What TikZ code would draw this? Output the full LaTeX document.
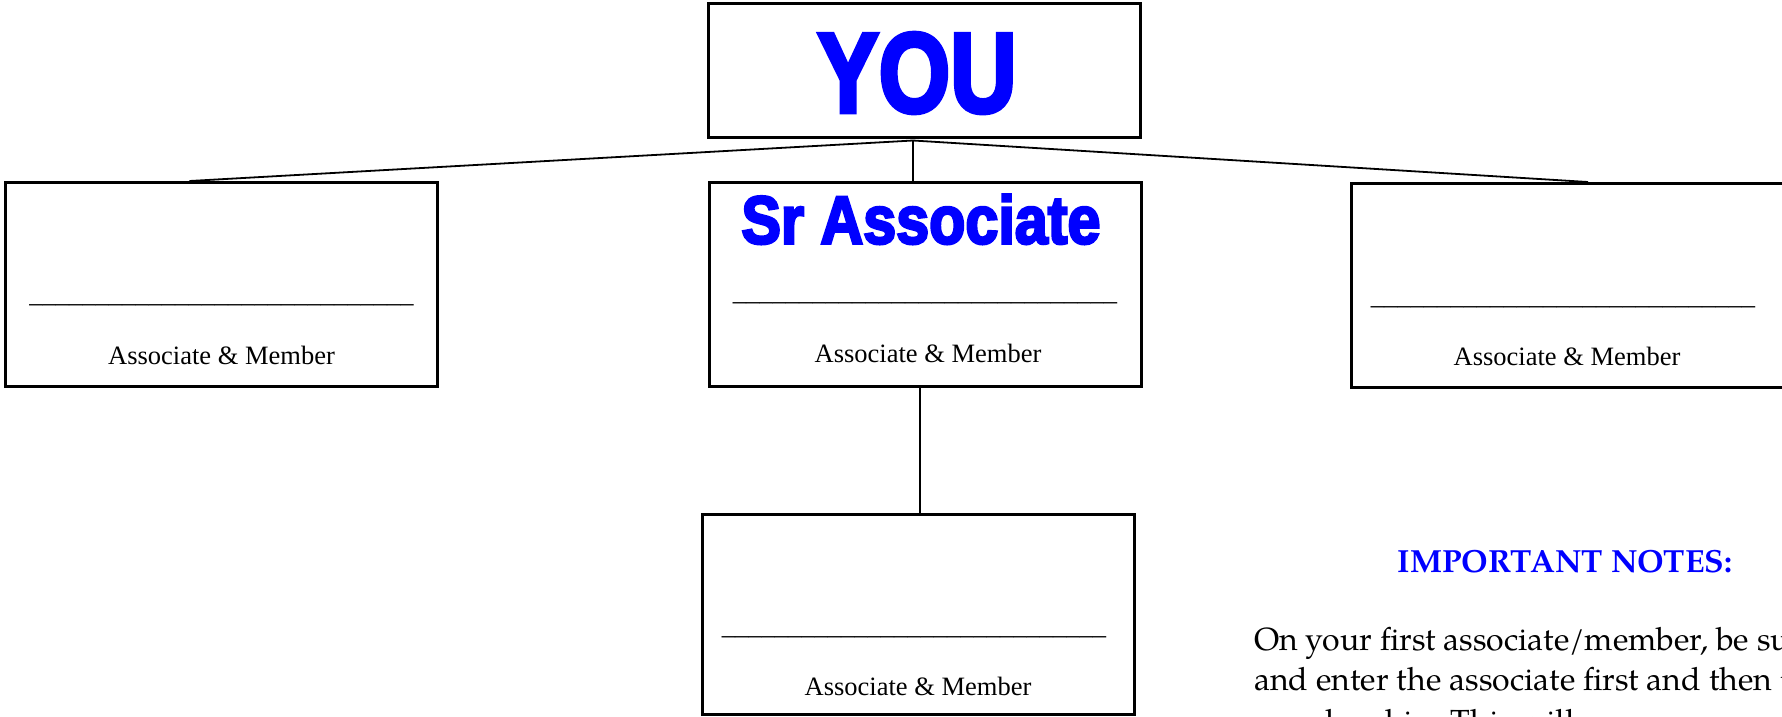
\documentclass[tikz,border=0pt]{standalone}
\usepackage{graphicx}
\usepackage{fontspec}
\setmainfont{Liberation Serif}
\newfontfamily\impactfont{Liberation Sans Bold}[FakeBold=4]
\newfontfamily\notesfont{texgyrepagella}[Extension=.otf, UprightFont=*-regular, BoldFont=*-bold]
\usetikzlibrary{positioning}

\definecolor{youblue}{RGB}{0,0,255}
\newcommand{\blankline}{\_\_\_\_\_\_\_\_\_\_\_\_\_\_\_\_\_\_\_\_\_\_\_\_\_\_\_\_\_}

\begin{document}
\begin{tikzpicture}
	[x=1pt, y=-1pt, on grid,
	 member/.style={draw, line width=3pt, minimum width=432pt, minimum height=204pt, inner sep=0pt},
	 link/.style={line width=1.8pt},
	 role/.style={font=\fontsize{26.5}{30}\selectfont, inner sep=0pt},
	 title/.style={text=youblue, inner sep=0pt},
	 note/.style={font=\notesfont\fontsize{32}{40}\selectfont, inner sep=0pt}]
   \useasboundingbox (0,0) rectangle (1782,716);
   \clip (0,0) rectangle (1782,716);
   % boxes
   \node[member, minimum height=134pt] (you) at (924,70) {};
   \node[member] (sr) at (925,284) {};
   \node[member] (lbox) at (221.5,284.5) {};
   \node[member] (rbox) at (1567,285.5) {};
   \node[member, minimum height=200pt] (bbox) at (918,614) {};
   % titles
   \node[title] (you_t) at (917,112) [anchor=base] {\resizebox{199pt}{79pt}{\impactfont YOU}};
   \node[title] (sr_t) [below=63pt of sr.north, anchor=base, xshift=-4pt] {\resizebox{359pt}{49pt}{\impactfont Sr Associate}};
   % blanks and roles
   \node[role] (l_line) [below=121pt of lbox.north, anchor=base] {\blankline};
   \node[role] (l_role) [below=183pt of lbox.north, anchor=base] {Associate \& Member};
   \node[role] (sr_line) [below=120pt of sr.north, anchor=base] {\blankline};
   \node[role] (sr_role) [below=182pt of sr.north, anchor=base, xshift=3pt] {Associate \& Member};
   \node[role] (r_line) [below=122pt of rbox.north, anchor=base, xshift=-4pt] {\blankline};
   \node[role] (r_role) [below=183pt of rbox.north, anchor=base] {Associate \& Member};
   \node[role] (b_line) [below=122pt of bbox.north, anchor=base, xshift=-4pt] {\blankline};
   \node[role] (b_role) [below=183pt of bbox.north, anchor=base] {Associate \& Member};
   % connectors
   \coordinate (fork) at ([xshift=-11pt, yshift=-2pt]you.south);
   \path[link]
    (fork) edge ([xshift=-32pt]lbox.north)
           edge ([xshift=21pt]rbox.north)
           edge (fork |- sr.north)
    ([xshift=-5pt]sr.south) edge ([xshift=-5pt]sr.south |- bbox.north);
   % notes
   \node[note, text=youblue, font=\notesfont\bfseries\fontsize{32}{40}\selectfont] (notes) at (1565,572) [anchor=base] {IMPORTANT NOTES:};
   \node[note] (note1) at (1254,650) [anchor=base west] {On your first associate/member, be sure to};
   \node[note] (note2) [below=40pt of note1.base west, anchor=base west] {and enter the associate first and then the};
   \node[note] (note3) [below=42pt of note2.base west, anchor=base west] {membership. This will};
\end{tikzpicture}
\end{document}
